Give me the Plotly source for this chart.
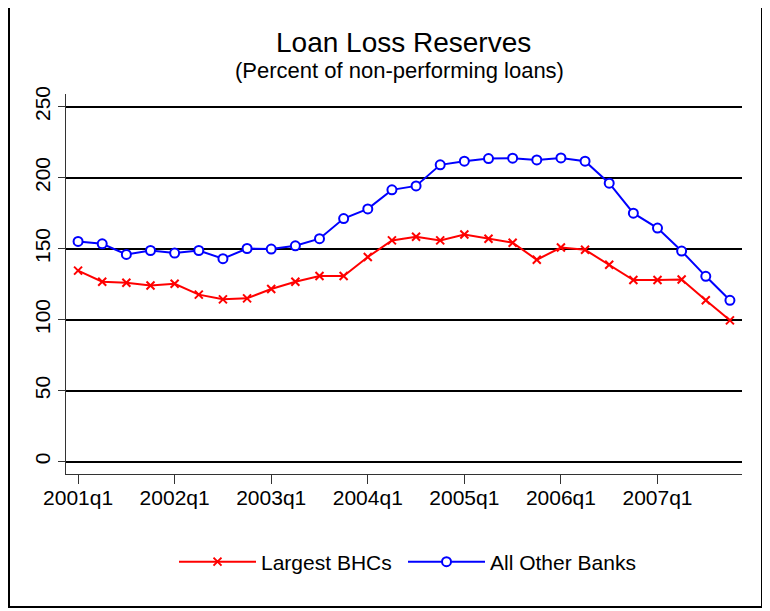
import plotly.graph_objects as go

# ---- data ----
years = [2001, 2002, 2003, 2004, 2005, 2006, 2007]
quarters = [f"{y}q{q}" for y in years for q in (1, 2, 3, 4)]
largest_bhcs = [134.5, 126.7, 126.0, 124.1, 125.3, 117.6, 114.3, 115.0,
                121.6, 126.7, 130.7, 130.7, 144.1, 155.8, 158.4, 155.8,
                160.0, 157.0, 154.2, 142.2, 150.8, 149.2, 138.7, 127.9,
                127.9, 128.3, 113.6, 99.5]
all_other_banks = [155.1, 153.4, 145.9, 148.7, 146.9, 148.7, 142.9, 150.1,
                   149.7, 152.0, 157.0, 171.2, 178.0, 191.4, 194.2, 209.0,
                   211.6, 213.4, 213.7, 212.5, 213.9, 211.6, 196.1, 175.0,
                   164.5, 148.3, 130.5, 113.6]
x_tick_labels = [f"{y}q1" for y in years]
y_tick_vals = [0, 50, 100, 150, 200, 250]
series_names = ["Largest BHCs", "All Other Banks"]
title_text = "Loan Loss Reserves"
subtitle_text = "(Percent of non-performing loans)"

FONT = "Liberation Sans, Arial, Helvetica, sans-serif"
OFF = 8  # page body margin offset
W, H = 770 - OFF, 611 - OFF
# target screen pixel positions -> figure pixel positions
PL, PR, PT, PB = 66 - OFF, 742 - OFF, 94 - OFF, 474 - OFF
ML, MR, MT, MB = PL, W - PR, PT, H - PB
PW, PH = W - ML - MR, H - MT - MB


def px_x(p):
    return (p - OFF - ML) / PW


def px_y(p):
    return (H - MB - (p - OFF)) / PH


fig = go.Figure()
fig.add_trace(go.Scatter(
    x=quarters, y=largest_bhcs, name=series_names[0], mode="lines+markers",
    line=dict(color="#FF0000", width=2), legend="legend",
    marker=dict(symbol="x-thin-open", size=8, color="#FF0000",
                line=dict(color="#FF0000", width=2)),
))
fig.add_trace(go.Scatter(
    x=quarters, y=all_other_banks, name=series_names[1], mode="lines+markers",
    line=dict(color="#0000FF", width=2), legend="legend2",
    marker=dict(symbol="circle", size=9, color="white",
                line=dict(color="#0000FF", width=2)),
))

legend_common = dict(orientation="h", xanchor="left", y=px_y(562),
                     yanchor="middle", itemwidth=77, font=dict(size=21),
                     bgcolor="rgba(0,0,0,0)", itemclick=False)

fig.update_layout(
    width=W, height=H,
    margin=dict(l=ML, r=MR, t=MT, b=MB, autoexpand=False),
    paper_bgcolor="white", plot_bgcolor="white",
    font=dict(family=FONT, size=21, color="black"),
    showlegend=True,
    legend=dict(x=px_x(174), **legend_common),
    legend2=dict(x=px_x(403), **legend_common),
    xaxis=dict(
        type="category", categoryorder="array", categoryarray=quarters,
        range=[-0.5, 27.5], tickmode="array", tickvals=x_tick_labels,
        ticktext=x_tick_labels, ticks="outside", ticklen=9, tickwidth=1,
        tickcolor="#333333", showline=True, linecolor="#333333", linewidth=1,
        showgrid=False, zeroline=False, automargin=False,
        tickfont=dict(size=21), ticklabelstandoff=-4,
    ),
    yaxis=dict(
        range=[-8.7, 258.9], tickmode="array", tickvals=y_tick_vals,
        ticks="outside", ticklen=7, tickwidth=1, tickcolor="#333333",
        tickangle=-90, showline=True, linecolor="#333333", linewidth=1,
        showgrid=True, gridcolor="black", gridwidth=2,
        zeroline=True, zerolinecolor="black", zerolinewidth=2,
        automargin=False, tickfont=dict(size=21),
    ),
    shapes=[dict(type="rect", xref="paper", yref="paper",
                 x0=px_x(9), x1=px_x(762), y0=px_y(607), y1=px_y(5),
                 line=dict(color="black", width=2), fillcolor="rgba(0,0,0,0)",
                 layer="below")],
    annotations=[
        dict(text=title_text, xref="paper", yref="paper",
             x=px_x(403.5), y=px_y(43), xanchor="center", yanchor="middle",
             showarrow=False, font=dict(size=28, family=FONT)),
        dict(text=subtitle_text, xref="paper", yref="paper",
             x=px_x(399.5), y=px_y(70.5), xanchor="center", yanchor="middle",
             showarrow=False, font=dict(size=22, family=FONT)),
    ],
)

fig.write_html("out.html")
